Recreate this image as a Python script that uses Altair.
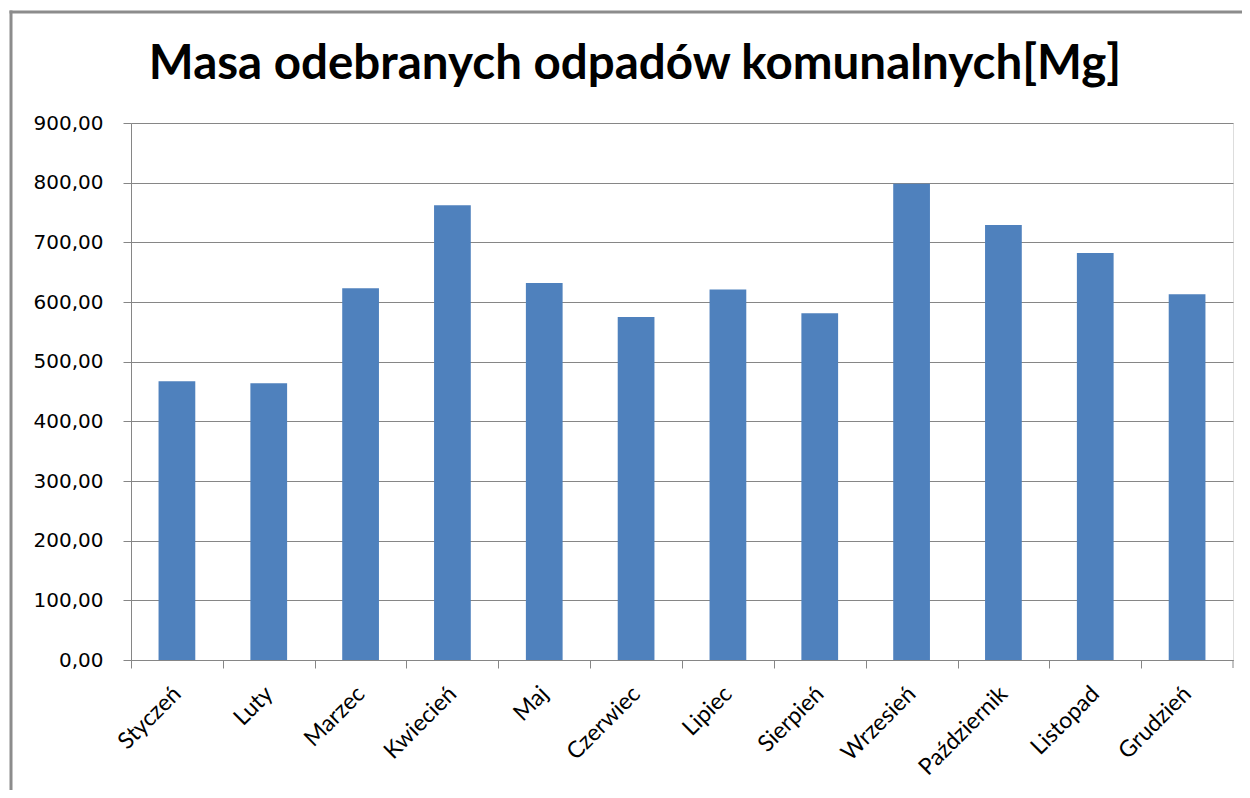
import altair as alt
import pandas as pd

months = ["Styczeń", "Luty", "Marzec", "Kwiecień", "Maj", "Czerwiec",
          "Lipiec", "Sierpień", "Wrzesień", "Październik", "Listopad", "Grudzień"]
masses = [467, 464, 623, 762, 632, 575, 621, 581, 798, 729, 682, 613]
y_ticks = [0, 100, 200, 300, 400, 500, 600, 700, 800, 900]
title_text = "Masa odebranych odpadów komunalnych[Mg]"

df = pd.DataFrame({"Miesiąc": months, "Masa": masses})

W, H = 1102, 537
STEP = W / len(months)
GRAY = "#868686"
FRAME = "#8C8C8C"

bars = alt.Chart(df).mark_bar(color="#4F81BD").encode(
    x=alt.X("Miesiąc:N", sort=months,
            scale=alt.Scale(paddingInner=0.6, paddingOuter=0.3),
            axis=alt.Axis(title=None, labelAngle=-45, labelAlign="right",
                          labelBaseline="middle", labelPadding=22,
                          labelOffset=STEP / 2,
                          labelFont="Lato", labelFontSize=23, labelColor="#000000",
                          tickOffset=-STEP / 2, tickSize=8, tickColor=GRAY,
                          domainColor=GRAY, grid=False)),
    y=alt.Y("Masa:Q", scale=alt.Scale(domain=[0, 900], nice=False),
            axis=alt.Axis(title=None, values=y_ticks,
                          labelExpr="replace(format(datum.value, '.2f'), '.', ',')",
                          labelFont="DejaVu Sans", labelFontSize=20, labelColor="#000000",
                          labelPadding=20, tickSize=8, tickColor=GRAY,
                          domainColor=GRAY, gridColor=GRAY, gridWidth=1)),
)

one = pd.DataFrame({"k": [0]})

end_tick = alt.Chart(one).mark_rule(color=GRAY).encode(
    x=alt.value(W), y=alt.value(H), y2=alt.value(H + 8))

frame_top = alt.Chart(one).mark_rule(color=FRAME, strokeWidth=3).encode(
    x=alt.value(-121.5), x2=alt.value(W + 40), y=alt.value(-111))
frame_left = alt.Chart(one).mark_rule(color=FRAME, strokeWidth=3).encode(
    x=alt.value(-120), y=alt.value(-112.5), y2=alt.value(H + 200))

title = alt.Chart(pd.DataFrame({"t": [title_text]})).mark_text(
    font="Lato", fontWeight="bold", fontSize=47.5, color="#000000",
    align="center", baseline="alphabetic"
).encode(text="t:N", x=alt.value(504), y=alt.value(-44))

chart = alt.layer(bars, end_tick, frame_top, frame_left, title).properties(
    width=W, height=H,
    autosize=alt.AutoSizeParams(type="none"),
    padding={"left": 123, "top": 115, "right": 9, "bottom": 130},
).configure_view(stroke=None).configure(background="#FFFFFF")

chart.save("out.html", embed_options={"renderer": "svg", "actions": False})
